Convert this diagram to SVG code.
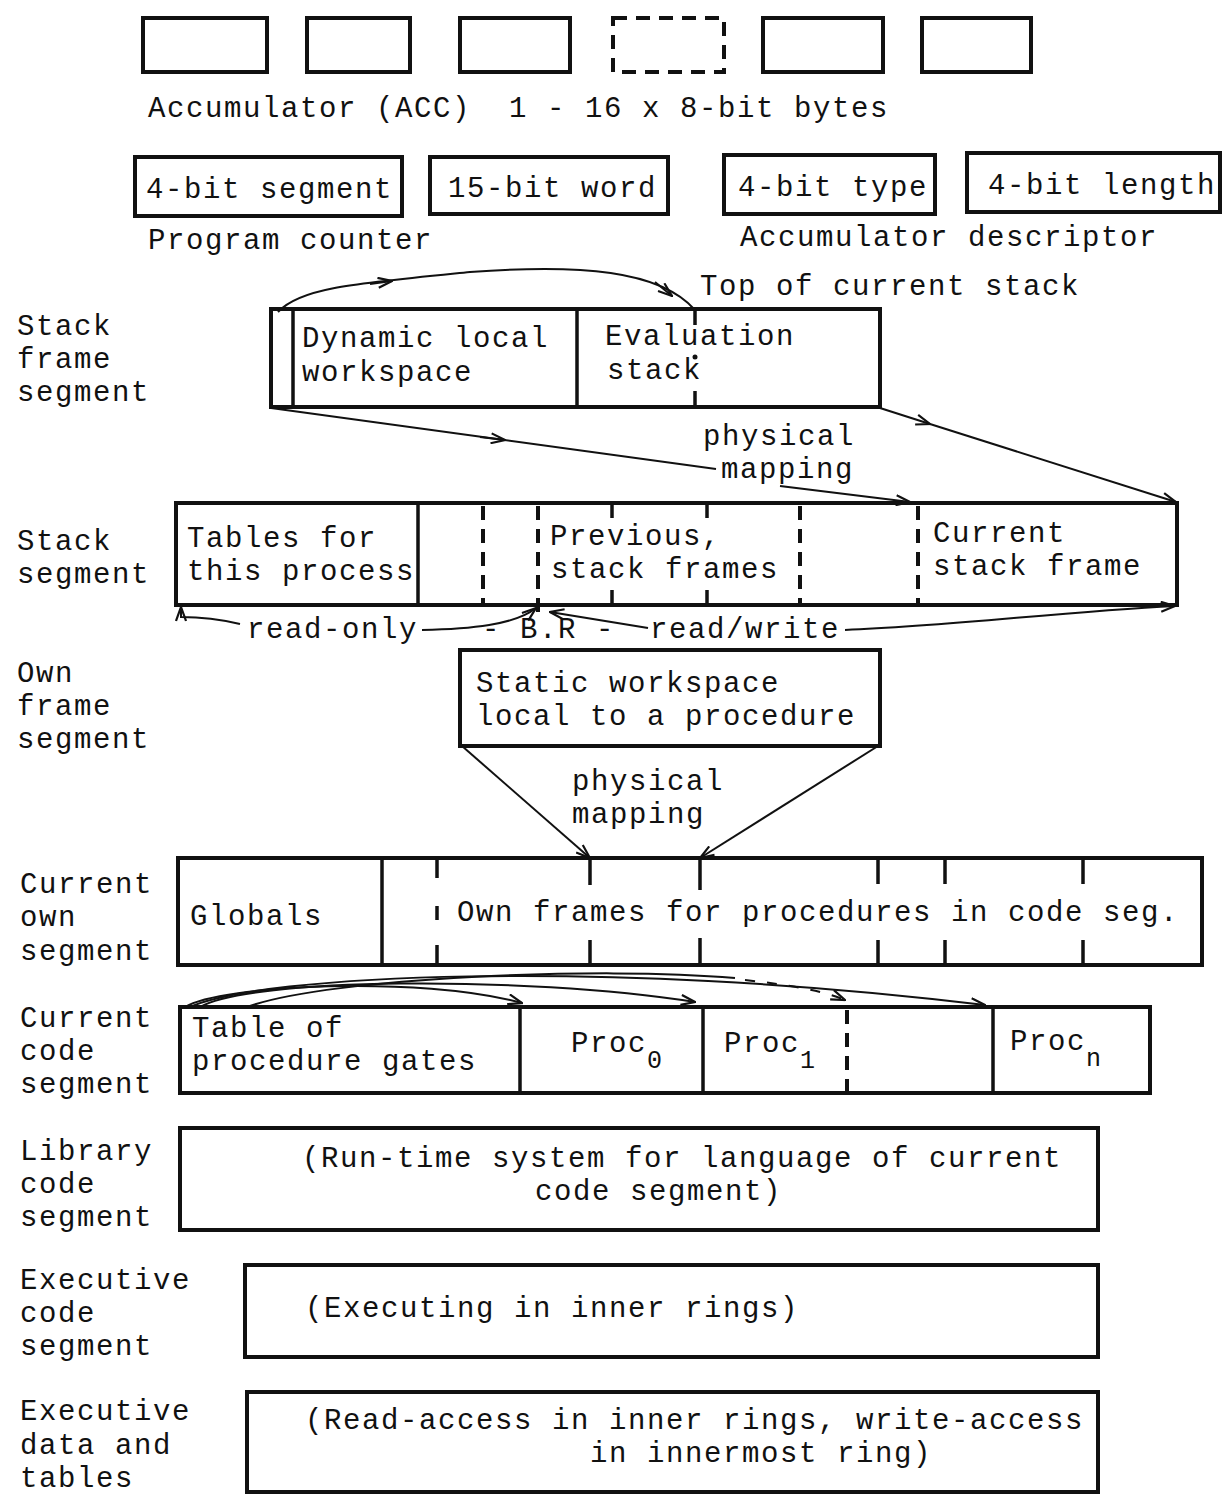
<svg xmlns="http://www.w3.org/2000/svg" width="1224" height="1497" viewBox="0 0 1224 1497">
<defs>
<marker id="ah" viewBox="0 0 16 12" refX="15" refY="6" markerWidth="16" markerHeight="12" markerUnits="userSpaceOnUse" orient="auto"><path d="M1 1 L15 6 L1 11" fill="none" stroke="#111" stroke-width="2.2"/></marker>
</defs>
<style>
text{font-family:"Liberation Mono","DejaVu Sans Mono",monospace;font-size:29px;letter-spacing:1.6px;fill:#111}
.box{fill:none;stroke:#111;stroke-width:4}
.div{stroke:#111;stroke-width:3.5;fill:none}
.dash{stroke:#111;stroke-width:4;stroke-dasharray:14 9;fill:none}
.ln{stroke:#111;stroke-width:2;fill:none}
.arr{stroke:#111;stroke-width:2;fill:none;marker-end:url(#ah)}
.sub{font-size:25px}
</style>
<rect width="1224" height="1497" fill="#fff"/>

<g id="accumulator">
<rect class="box" x="143" y="18" width="124" height="54"/>
<rect class="box" x="307" y="18" width="103" height="54"/>
<rect class="box" x="460" y="18" width="110" height="54"/>
<rect class="dash" x="613" y="18" width="111" height="54"/>
<rect class="box" x="763" y="18" width="120" height="54"/>
<rect class="box" x="922" y="18" width="109" height="54"/>
<text x="148" y="117" xml:space="preserve">Accumulator (ACC)  1 - 16 x 8-bit bytes</text>
</g>

<g id="program-counter">
<rect class="box" x="135" y="157" width="267" height="59"/>
<rect class="box" x="430" y="157" width="238" height="57"/>
<text x="146" y="198">4-bit segment</text>
<text x="448" y="197">15-bit word</text>
<text x="148" y="249">Program counter</text>
</g>

<g id="acc-descriptor">
<rect class="box" x="724" y="155" width="211" height="59"/>
<rect class="box" x="967" y="153" width="253" height="59"/>
<text x="738" y="196">4-bit type</text>
<text x="988" y="194">4-bit length</text>
<text x="740" y="246">Accumulator descriptor</text>
</g>

<g id="stack-frame-segment">
<text x="17" y="335">Stack</text>
<text x="17" y="368">frame</text>
<text x="17" y="401">segment</text>
<rect class="box" x="271" y="309" width="609" height="98"/>
<line class="div" x1="293" y1="309" x2="293" y2="407"/>
<line class="div" x1="577" y1="309" x2="577" y2="407"/>
<line class="div" x1="695" y1="309" x2="695" y2="325"/>
<line class="div" x1="695" y1="391" x2="695" y2="407"/>
<circle cx="695" cy="357" r="2.5" fill="#111"/>
<text x="302" y="347">Dynamic local</text>
<text x="302" y="381">workspace</text>
<text x="605" y="345">Evaluation</text>
<text x="607" y="379">stack</text>
<text x="700" y="295">Top of current stack</text>
<text x="703" y="445">physical</text>
<text x="721" y="478">mapping</text>
</g>

<g id="stack-segment">
<text x="17" y="550">Stack</text>
<text x="17" y="583">segment</text>
<rect class="box" x="176" y="503" width="1001" height="102"/>
<line class="div" x1="418" y1="503" x2="418" y2="605"/>
<line class="dash" x1="483" y1="506" x2="483" y2="605"/>
<line class="dash" x1="538" y1="506" x2="538" y2="618"/>
<line class="div" x1="612" y1="503" x2="612" y2="518"/>
<line class="div" x1="612" y1="590" x2="612" y2="605"/>
<line class="div" x1="707" y1="503" x2="707" y2="518"/>
<line class="div" x1="707" y1="590" x2="707" y2="605"/>
<line class="dash" x1="800" y1="506" x2="800" y2="605"/>
<line class="dash" x1="918" y1="506" x2="918" y2="605"/>
<text x="187" y="547">Tables for</text>
<text x="187" y="580">this process</text>
<text x="550" y="545">Previous,</text>
<text x="551" y="578">stack frames</text>
<text x="933" y="542">Current</text>
<text x="933" y="575">stack frame</text>
<text x="247" y="638">read-only</text>
<text x="482" y="638">- B.R -</text>
<text x="650" y="638">read/write</text>
</g>

<g id="own-frame-segment">
<text x="17" y="682">Own</text>
<text x="17" y="715">frame</text>
<text x="17" y="748">segment</text>
<rect class="box" x="460" y="650" width="420" height="96"/>
<text x="476" y="692">Static workspace</text>
<text x="476" y="725">local to a procedure</text>
<text x="572" y="790">physical</text>
<text x="572" y="823">mapping</text>
</g>

<g id="current-own-segment">
<text x="20" y="893">Current</text>
<text x="20" y="926">own</text>
<text x="20" y="960">segment</text>
<rect class="box" x="178" y="858" width="1024" height="107"/>
<line class="div" x1="382" y1="858" x2="382" y2="965"/>
<line class="div" x1="437" y1="858" x2="437" y2="878"/>
<line class="div" x1="437" y1="906" x2="437" y2="920"/>
<line class="div" x1="437" y1="945" x2="437" y2="965"/>
<line class="div" x1="590" y1="858" x2="590" y2="885"/>
<line class="div" x1="590" y1="940" x2="590" y2="965"/>
<line class="div" x1="700" y1="858" x2="700" y2="890"/>
<line class="div" x1="700" y1="938" x2="700" y2="965"/>
<line class="div" x1="878" y1="858" x2="878" y2="884"/>
<line class="div" x1="878" y1="940" x2="878" y2="965"/>
<line class="div" x1="945" y1="858" x2="945" y2="884"/>
<line class="div" x1="945" y1="940" x2="945" y2="965"/>
<line class="div" x1="1083" y1="858" x2="1083" y2="884"/>
<line class="div" x1="1083" y1="940" x2="1083" y2="965"/>
<text x="190" y="925">Globals</text>
<text x="457" y="921">Own frames for procedures in code seg.</text>
</g>

<g id="current-code-segment">
<text x="20" y="1027">Current</text>
<text x="20" y="1060">code</text>
<text x="20" y="1093">segment</text>
<rect class="box" x="180" y="1007" width="970" height="86"/>
<line class="div" x1="520" y1="1007" x2="520" y2="1093"/>
<line class="div" x1="703" y1="1007" x2="703" y2="1093"/>
<line class="dash" x1="847" y1="1010" x2="847" y2="1093"/>
<line class="div" x1="993" y1="1007" x2="993" y2="1093"/>
<text x="192" y="1037">Table of</text>
<text x="192" y="1070">procedure gates</text>
<text x="571" y="1052">Proc<tspan class="sub" dy="16">0</tspan></text>
<text x="724" y="1052">Proc<tspan class="sub" dy="16">1</tspan></text>
<text x="1010" y="1050">Proc<tspan class="sub" dy="16">n</tspan></text>
</g>

<g id="library-code-segment">
<text x="20" y="1160">Library</text>
<text x="20" y="1193">code</text>
<text x="20" y="1226">segment</text>
<rect class="box" x="180" y="1128" width="918" height="102"/>
<text x="302" y="1167">(Run-time system for language of current</text>
<text x="535" y="1200">code segment)</text>
</g>

<g id="executive-code-segment">
<text x="20" y="1289">Executive</text>
<text x="20" y="1322">code</text>
<text x="20" y="1355">segment</text>
<rect class="box" x="245" y="1265" width="853" height="92"/>
<text x="305" y="1317">(Executing in inner rings)</text>
</g>

<g id="executive-data">
<text x="20" y="1420">Executive</text>
<text x="20" y="1454">data and</text>
<text x="20" y="1487">tables</text>
<rect class="box" x="247" y="1392" width="851" height="100"/>
<text x="305" y="1429">(Read-access in inner rings, write-access</text>
<text x="590" y="1462">in innermost ring)</text>
</g>

<g id="connectors">
<path class="ln" d="M278 312 C300 288 350 284 470 272 C580 264 660 270 695 310"/>
<path class="arr" d="M370 284 L392 281"/>
<path class="arr" d="M655 282 L672 296"/>
<path class="ln" d="M271 408 L716 469"/>
<path class="arr" d="M480 437 L505 440"/>
<path class="arr" d="M780 486 L910 502"/>
<path class="arr" d="M880 408 L930 424"/>
<path class="arr" d="M930 424 L1176 502"/>
<path class="arr" d="M240 624 C215 618 190 617 181 617 L181 607"/>
<path class="arr" d="M422 630 C470 629 515 625 536 608"/>
<path class="arr" d="M648 628 C610 622 575 616 550 612"/>
<path class="arr" d="M845 630 C950 626 1060 612 1175 606"/>
<path class="arr" d="M462 746 L590 858"/>
<path class="arr" d="M878 746 L700 858"/>
<path class="arr" d="M185 1007 C220 985 420 975 522 1003"/>
<path class="arr" d="M200 1007 C250 978 520 975 695 1002"/>
<path class="ln" d="M250 1006 C330 978 600 966 735 978"/>
<path class="arr" style="stroke-dasharray:10 12" d="M745 980 C790 985 820 990 845 1000"/>
<path class="arr" d="M190 1007 C260 975 600 958 985 1005"/>
</g>
</svg>
